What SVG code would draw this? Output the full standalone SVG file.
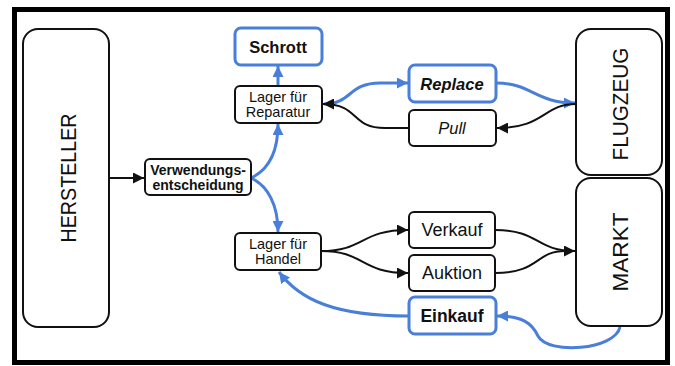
<svg xmlns="http://www.w3.org/2000/svg" width="675" height="366" viewBox="0 0 675 366">
<defs>
<style>
.big{font-family:"Liberation Sans",Arial,sans-serif;font-size:22px;fill:#111;text-anchor:middle}
.t{font-family:"Liberation Sans",Arial,sans-serif;fill:#111;text-anchor:middle}
.box{fill:#fff;stroke:#111;stroke-width:2}
.bbox{fill:#fff;stroke:#4a7fd9;stroke-width:3}
.k{fill:none;stroke:#111;stroke-width:2}
.b{fill:none;stroke:#4a7fd9;stroke-width:3}
</style>
<marker id="ak" viewBox="0 0 10 10" refX="10" refY="5" markerWidth="11" markerHeight="11" markerUnits="userSpaceOnUse" orient="auto"><path d="M0,0 L10,5 L0,10 z" fill="#111"/></marker>
<marker id="ab" viewBox="0 0 10 10" refX="10" refY="5" markerWidth="11" markerHeight="11" markerUnits="userSpaceOnUse" orient="auto"><path d="M0,0 L10,5 L0,10 z" fill="#4a7fd9"/></marker>
</defs>
<rect x="0" y="0" width="675" height="366" fill="#fff"/>
<rect x="14.5" y="9.5" width="653" height="353" fill="#fff" stroke="#000" stroke-width="5"/>

<g id="connectors">
<path class="k" d="M109,178 L144,178" marker-end="url(#ak)"/>
<path class="b" d="M251,178 C268,170 278,152 278,124" marker-end="url(#ab)"/>
<path class="b" d="M251,178 C268,186 278,205 278,232" marker-end="url(#ab)"/>
<path class="b" d="M278,86 L278,66" marker-end="url(#ab)"/>
<path class="b" d="M324,104 C352,104 348,83 380,83 L408,83" marker-end="url(#ab)"/>
<path class="k" d="M409,128 L385,128 C350,128 360,104 323,104" marker-end="url(#ak)"/>
<path class="b" d="M496,83 C532,83 535,103 575,103" marker-end="url(#ab)"/>
<path class="k" d="M576,104 C543,104 545,128 497,128" marker-end="url(#ak)"/>
<path class="k" d="M321,251 C365,251 360,230 408,230" marker-end="url(#ak)"/>
<path class="k" d="M321,251 C365,251 360,273 408,273" marker-end="url(#ak)"/>
<path class="k" d="M495,230 C540,230 535,251 575,251" marker-end="url(#ak)"/>
<path class="k" d="M495,273 C540,273 535,251 565,251"/>
<path class="b" d="M620,327 C615,350 548,355 538,336 C532,323 522,316 497,316" marker-end="url(#ab)"/>
<path class="b" d="M409,316 C335,316 300,300 279,272" marker-end="url(#ab)"/>
</g>

<g id="hersteller">
<rect class="box" x="23" y="29" width="86" height="298" rx="15"/>
<text class="big" transform="translate(76,178) rotate(-90)" textLength="129" lengthAdjust="spacingAndGlyphs">HERSTELLER</text>
</g>
<g id="flugzeug">
<rect class="box" x="576" y="29" width="86" height="146" rx="15"/>
<text class="big" transform="translate(628,104) rotate(-90)" textLength="113" lengthAdjust="spacingAndGlyphs">FLUGZEUG</text>
</g>
<g id="markt">
<rect class="box" x="576" y="178" width="86" height="148" rx="15"/>
<text class="big" transform="translate(628,252) rotate(-90)" textLength="79" lengthAdjust="spacingAndGlyphs">MARKT</text>
</g>
<g id="verwendung">
<rect class="box" x="145" y="159" width="106" height="36" rx="5"/>
<text class="t" x="198" y="175" font-size="14" font-weight="bold">Verwendungs-</text>
<text class="t" x="198" y="190" font-size="14" font-weight="bold">entscheidung</text>
</g>
<g id="schrott">
<rect class="bbox" x="235" y="28" width="87" height="37" rx="6"/>
<text class="t" x="278" y="53" font-size="16.5" font-weight="bold">Schrott</text>
</g>
<g id="lager-reparatur">
<rect class="box" x="235" y="86" width="87" height="37" rx="5"/>
<text class="t" x="278" y="102" font-size="14.5">Lager für</text>
<text class="t" x="278" y="117" font-size="14.5">Reparatur</text>
</g>
<g id="lager-handel">
<rect class="box" x="235" y="233" width="86" height="37" rx="5"/>
<text class="t" x="278" y="249" font-size="14.5">Lager für</text>
<text class="t" x="278" y="264" font-size="14.5">Handel</text>
</g>
<g id="replace">
<rect class="bbox" x="409" y="65" width="87" height="37" rx="6"/>
<text class="t" x="452" y="90" font-size="16.5" font-weight="bold" font-style="italic">Replace</text>
</g>
<g id="pull">
<rect class="box" x="409" y="110" width="87" height="36" rx="5"/>
<text class="t" x="452" y="134" font-size="16.5" font-style="italic">Pull</text>
</g>
<g id="verkauf">
<rect class="box" x="409" y="212" width="86" height="36" rx="5"/>
<text class="t" x="452" y="236" font-size="18">Verkauf</text>
</g>
<g id="auktion">
<rect class="box" x="409" y="255" width="86" height="36" rx="5"/>
<text class="t" x="452" y="279" font-size="18">Auktion</text>
</g>
<g id="einkauf">
<rect class="bbox" x="409" y="297" width="87" height="37" rx="6"/>
<text class="t" x="452" y="322" font-size="17.5" font-weight="bold">Einkauf</text>
</g>
</svg>
